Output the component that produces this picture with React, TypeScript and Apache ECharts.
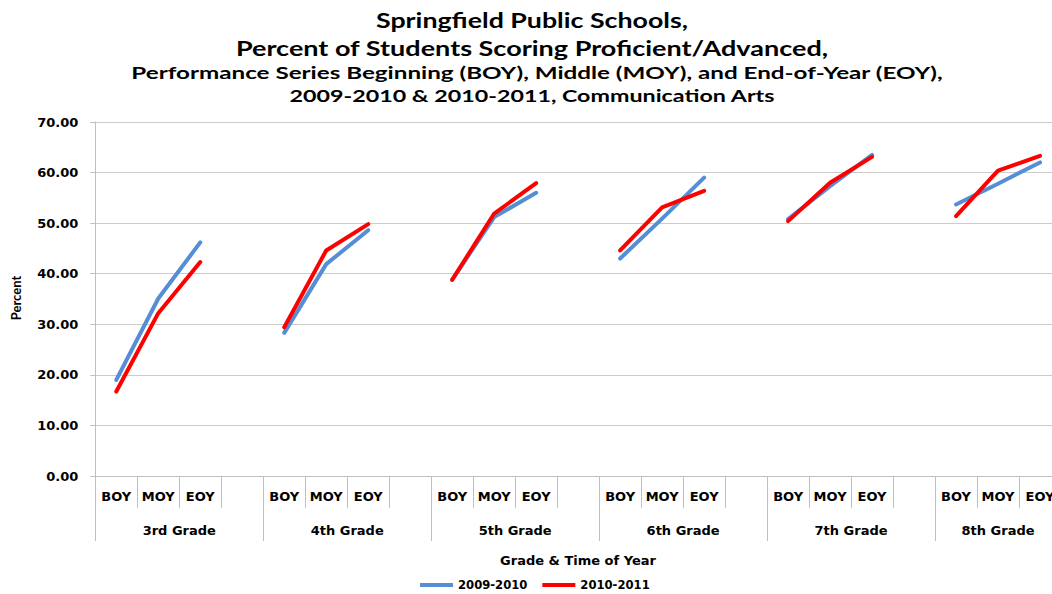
import React, { useEffect, useRef } from "react";
import * as echarts from "echarts";

const grades = ["3rd Grade", "4th Grade", "5th Grade", "6th Grade", "7th Grade", "8th Grade"];
const periods = ["BOY", "MOY", "EOY"];
const series0910 = [19.0, 35.1, 46.2, 28.3, 41.9, 48.6, 38.8, 51.2, 56.0, 43.0, 50.9, 59.0, 50.8, 57.3, 63.5, 53.7, 57.8, 62.0];
const series1011 = [16.7, 32.2, 42.3, 29.4, 44.6, 49.8, 38.8, 51.9, 57.9, 44.6, 53.1, 56.4, 50.4, 58.0, 63.1, 51.4, 60.4, 63.3];
const yTicks = { min: 0, max: 70, interval: 10 };
const titleLines = [
  "Springfield Public Schools,",
  "Percent of Students Scoring Proficient/Advanced,",
  "Performance Series Beginning (BOY), Middle (MOY), and End-of-Year (EOY),",
  "2009-2010 & 2010-2011, Communication Arts",
];

// categories: each grade has BOY, MOY, EOY followed by an empty gap slot (none after the last grade)
function buildCats(): string[] {
  const out: string[] = [];
  grades.forEach((_, g) => {
    periods.forEach((p) => out.push(p));
    if (g < grades.length - 1) out.push("");
  });
  return out;
}

function expand(vals: number[]): (number | null)[] {
  const out: (number | null)[] = [];
  grades.forEach((_, g) => {
    out.push(vals[g * 3], vals[g * 3 + 1], vals[g * 3 + 2]);
    if (g < grades.length - 1) out.push(null);
  });
  return out;
}

export default function App() {
  const ref = useRef<HTMLDivElement>(null);
  useEffect(() => {
    if (!ref.current) return;
    const chart = echarts.init(ref.current, undefined, { renderer: "svg" });
    const cats = buildCats();
    const n = cats.length; // 23
    // half-slot axis (boundaryGap false): points at every half category
    const halfPts: string[] = new Array(2 * n + 1).fill("");
    const groupStarts: number[] = [];
    grades.forEach((gname, g) => {
      const start = g * 8;
      const end = g < grades.length - 1 ? start + 8 : 2 * n;
      groupStarts.push(start);
      halfPts[(start + end) / 2] = gname;
    });
    groupStarts.push(2 * n);
    const axisFont = { fontFamily: "DejaVu Sans", fontWeight: "bold" as const, fontSize: 13, color: "#000" };
    const gray = "#bfbfbf";
    const titleSizes = [21, 21, 17.5, 17.5];
    const titleScale = [1.275, 1.286, 1.384, 1.33];
    const titleX = [532, 532, 537, 532];
    const titleY = [19.5, 48, 71.5, 95.5];
    chart.setOption({
      animation: false,
      backgroundColor: "#fff",
      grid: { left: 95.3, top: 122, bottom: 118, right: 0.7, containLabel: false },
      legend: {
        left: 420,
        top: 579,
        padding: 0,
        icon: "rect",
        itemWidth: 33,
        itemHeight: 4,
        itemGap: 15,
        textStyle: { fontFamily: "DejaVu Sans", fontWeight: "bold", fontSize: 11.6, color: "#000" },
        data: ["2009-2010", "2010-2011"],
      },
      xAxis: [
        {
          type: "category",
          data: cats,
          boundaryGap: true,
          axisLine: { lineStyle: { color: gray, width: 1 } },
          axisTick: { show: true, interval: 0, length: 32, lineStyle: { color: gray } },
          axisLabel: { interval: 0, margin: 14, ...axisFont },
        },
        {
          type: "category",
          data: halfPts,
          position: "bottom",
          boundaryGap: false,
          axisLine: { show: true, lineStyle: { color: gray, width: 1 } },
          axisTick: {
            show: true,
            interval: (idx: number) => groupStarts.indexOf(idx) >= 0,
            length: 65,
            lineStyle: { color: gray },
          },
          axisLabel: { interval: 0, margin: 48, ...axisFont },
        },
      ],
      yAxis: {
        type: "value",
        min: yTicks.min,
        max: yTicks.max,
        interval: yTicks.interval,
        axisLine: { show: true, lineStyle: { color: gray } },
        axisTick: { show: true, length: 5, lineStyle: { color: gray } },
        axisLabel: { margin: 17, formatter: (v: number) => v.toFixed(2), ...axisFont },
        splitLine: { show: true, lineStyle: { color: "#cccccc", width: 1 } },
      },
      series: [
        {
          name: "2009-2010",
          type: "line",
          xAxisIndex: 0,
          data: expand(series0910),
          symbol: "none",
          connectNulls: false,
          lineStyle: { color: "#558ed5", width: 4, cap: "round", join: "round" },
          itemStyle: { color: "#558ed5" },
        },
        {
          name: "2010-2011",
          type: "line",
          xAxisIndex: 0,
          data: expand(series1011),
          symbol: "none",
          connectNulls: false,
          lineStyle: { color: "#ff0000", width: 4, cap: "round", join: "round" },
          itemStyle: { color: "#ff0000" },
        },
      ],
      graphic: [
        ...titleLines.map((t, i) => ({
          type: "text",
          x: titleX[i],
          y: titleY[i],
          scaleX: titleScale[i],
          style: {
            text: t,
            fontFamily: "Lato",
            fontWeight: "bold",
            fontSize: titleSizes[i],
            fill: "#000",
            textAlign: "center",
            textVerticalAlign: "middle",
          },
        })),
        {
          type: "text",
          x: 16,
          y: 298,
          rotation: Math.PI / 2,
          style: {
            text: "Percent",
            fontFamily: "Lato",
            fontWeight: "bold",
            fontSize: 13,
            fill: "#000",
            textAlign: "center",
            textVerticalAlign: "middle",
          },
        },
        {
          type: "text",
          x: 578,
          y: 560,
          style: {
            text: "Grade & Time of Year",
            fontFamily: "DejaVu Sans",
            fontWeight: "bold",
            fontSize: 13,
            fill: "#000",
            textAlign: "center",
            textVerticalAlign: "middle",
          },
        },
      ],
    });
    return () => chart.dispose();
  }, []);
  return (
    <div style={{ position: "absolute", left: 0, top: 0, width: 1052, height: 594, overflow: "hidden", background: "#fff" }}>
      <div ref={ref} style={{ width: 1064, height: 594 }} />
    </div>
  );
}
